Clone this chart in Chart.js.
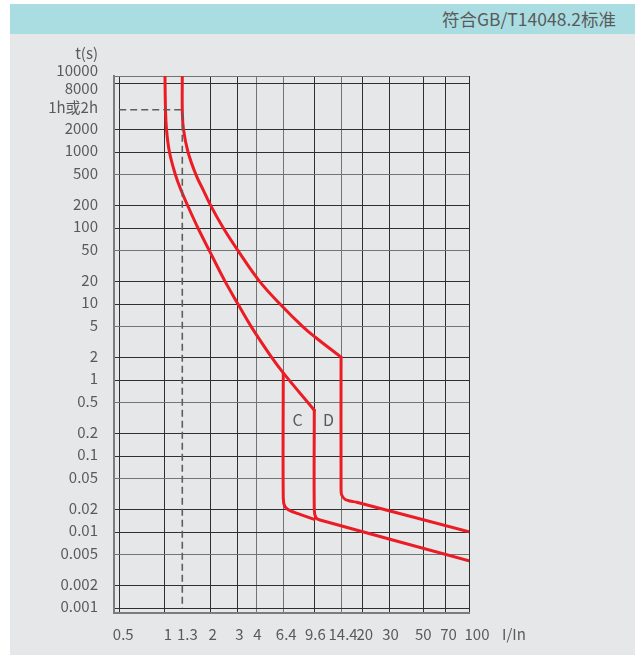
<!DOCTYPE html>
<html>
<head>
<meta charset="utf-8">
<script src="https://cdn.jsdelivr.net/npm/chart.js@4.4.1/dist/chart.umd.min.js"></script>
<style>
  html, body { margin: 0; padding: 0; background: #ffffff; }
  body { width: 635px; height: 661px; position: relative; overflow: hidden; }
  #panel { position: absolute; left: 10px; top: 34px; width: 625px; height: 621px; background: #e6e7e9; }
  #header { position: absolute; left: 10px; top: 4px; width: 625px; height: 30px; background: #a9dde2;
            font-family: "Noto Sans CJK SC", "Noto Sans", sans-serif; font-size: 17.5px; color: #5a5a5a;
            text-align: right; line-height: 30px; box-sizing: border-box; padding-right: 19px; }
  #c { position: absolute; left: 0; top: 0; }
</style>
</head>
<body>
<div id="panel"></div>
<div id="header">符合GB/T14048.2标准</div>
<canvas id="c" width="635" height="661"></canvas>
<script>
// ---- data ----
// left boundary curve: thermal arc, then instantaneous vertical at 9.6 In, then tail
const curveA_arc_I = [1.0, 1.008, 1.023, 1.070, 1.172, 1.274, 1.406, 1.648, 1.962, 2.48, 3.02, 3.70, 5.02, 6.0, 9.6];
const curveA_arc_t = [10000, 3600, 2000, 1000, 500, 316, 200, 100, 50, 20, 10, 5, 2, 1.24, 0.40];
const curveA_tail_I = [9.6, 9.6, 9.85, 10.46, 100];
const curveA_tail_t = [0.40, 0.0195, 0.0154, 0.0144, 0.00419];

// C instantaneous line at 6.4 In
const curveC_I = [6.0, 6.0, 6.16, 6.64, 7.73, 9.6];
const curveC_t = [1.24, 0.0277, 0.0215, 0.0191, 0.0171, 0.0147];

// right boundary curve: thermal arc, then instantaneous vertical at 14.4 In, then tail
const curveB_arc_I = [1.3, 1.3, 1.323, 1.417, 1.6, 1.786, 1.992, 2.42, 3.03, 4.18, 5.71, 8.09, 9.70, 14.4];
const curveB_arc_t = [10000, 3600, 2000, 1000, 500, 316, 200, 100, 50, 20, 10, 5, 3.68, 2];
const curveB_tail_I = [14.4, 14.4, 14.54, 15.29, 16.49, 18.25, 100];
const curveB_tail_t = [2, 0.0357, 0.0307, 0.0269, 0.0256, 0.0246, 0.0101];

const guide_I = [0.5, 1.3, 1.3];
const guide_t = [3600, 3600, 0.001];

const zoneLabels = ['C', 'D'];
const zoneLabel_I = [7.45, 11.9];
const zoneLabel_t = [0.298, 0.298];

const xGridValues = [0.5, 1, 2, 3, 4, 6, 9.6, 14.4, 20, 30, 50, 70, 100];
const xLabelValues = [0.5, 1, 1.3, 2, 3, 4, 6, 9.6, 14.4, 20, 30, 50, 70, 100];
const xLabelTexts = ['0.5', '1', '1.3', '2', '3', '4', '6.4', '9.6', '14.4', '20', '30', '50', '70', '100'];

const yGridValues = [10000, 8000, 2000, 1000, 500, 200, 100, 50, 20, 10, 5, 2, 1, 0.5, 0.2, 0.1, 0.05, 0.02, 0.01, 0.005, 0.002, 0.001];
const yLabelValues = [10000, 8000, 3600, 2000, 1000, 500, 200, 100, 50, 20, 10, 5, 2, 1, 0.5, 0.2, 0.1, 0.05, 0.02, 0.01, 0.005, 0.002, 0.001];
const yLabelTexts = ['10000', '8000', '1h或2h', '2000', '1000', '500', '200', '100', '50', '20', '10', '5', '2', '1', '0.5', '0.2', '0.1', '0.05', '0.02', '0.01', '0.005', '0.002', '0.001'];

const xTitle = 'I/In';
const yTitle = 't(s)';

// ---- styles ----
const RED = '#ec1c24';
const FONT = '15px "Noto Sans CJK SC", "Noto Sans", sans-serif';
const TEXT = '#5a5a5a';
const xLabelNudge = [4, 3, 5, 2, 2, 1, 3, 1, 2, 2, 1, 0, 3, 8];
const yLabelNudge = { '10000': -5.3, '8000': 4.7, '3600': -2 };

function pts(xs, ys) { return xs.map((x, i) => ({ x: x, y: ys[i] })); }

const textPlugin = {
  id: 'texts',
  afterDraw(chart) {
    const ctx = chart.ctx, xs = chart.scales.x, ys = chart.scales.y, a = chart.chartArea;
    ctx.save();
    ctx.font = FONT;
    ctx.fillStyle = TEXT;
    ctx.textBaseline = 'middle';
    ctx.textAlign = 'right';
    yLabelValues.forEach((v, i) => {
      const n = yLabelNudge[String(v)] !== undefined ? yLabelNudge[String(v)] : -1.3;
      ctx.fillText(yLabelTexts[i], a.left - 16, ys.getPixelForValue(v) + n);
    });
    ctx.fillText(yTitle, a.left - 16, a.top - 23);
    ctx.textAlign = 'center';
    xLabelValues.forEach((v, i) => {
      ctx.fillText(xLabelTexts[i], xs.getPixelForValue(v) + xLabelNudge[i], a.bottom + 21);
    });
    ctx.textAlign = 'left';
    ctx.fillText(xTitle, a.right + 33, a.bottom + 21);
    ctx.textAlign = 'center';
    ctx.font = '16px "Noto Sans CJK SC", "Noto Sans", sans-serif';
    zoneLabels.forEach((s, i) => {
      ctx.fillText(s, xs.getPixelForValue(zoneLabel_I[i]), ys.getPixelForValue(zoneLabel_t[i]));
    });
    ctx.restore();
  }
};

function gridColor(gray) {
  return (c) => (c.tick && gray(c.tick.value)) ? '#747474' : '#2f2f2f';
}

function redLine(xs, ys, tension) {
  return { data: pts(xs, ys), showLine: true, borderColor: RED, borderWidth: 3, pointRadius: 0,
           tension: tension, borderJoinStyle: 'round', borderCapStyle: 'round' };
}

new Chart(document.getElementById('c'), {
  type: 'scatter',
  data: {
    datasets: [
      { data: pts(guide_I, guide_t), showLine: true, borderColor: '#5e5e5e', borderWidth: 1.6, borderDash: [7, 4], pointRadius: 0, tension: 0 },
      redLine(curveA_arc_I, curveA_arc_t, 0.4),
      redLine(curveA_tail_I, curveA_tail_t, 0.3),
      redLine(curveC_I, curveC_t, 0.3),
      redLine(curveB_arc_I, curveB_arc_t, 0.4),
      redLine(curveB_tail_I, curveB_tail_t, 0.3)
    ]
  },
  options: {
    responsive: false,
    devicePixelRatio: 1,
    animation: false,
    layout: { padding: { left: 114, right: 166, top: 76, bottom: 48 } },
    plugins: { legend: { display: false }, tooltip: { enabled: false } },
    scales: {
      x: {
        type: 'logarithmic', min: 0.462, max: 100,
        afterBuildTicks: (ax) => { ax.ticks = xGridValues.map(v => ({ value: v })); },
        ticks: { display: false },
        grid: { drawTicks: false, color: gridColor(v => v === 4 || v === 6 || v === 14.4), lineWidth: 1 },
        border: { display: true, color: '#7c7c7c', width: 2 }
      },
      y: {
        type: 'logarithmic', min: 0.00086, max: 10000,
        afterBuildTicks: (ax) => { ax.ticks = yGridValues.map(v => ({ value: v })); },
        ticks: { display: false },
        grid: { drawTicks: false, color: gridColor(v => /^5/.test(String(v).replace(/^0\.0*/, '')) || v === 10000), lineWidth: 1 },
        border: { display: true, color: '#7c7c7c', width: 2 }
      }
    }
  },
  plugins: [textPlugin]
});
</script>
</body>
</html>
